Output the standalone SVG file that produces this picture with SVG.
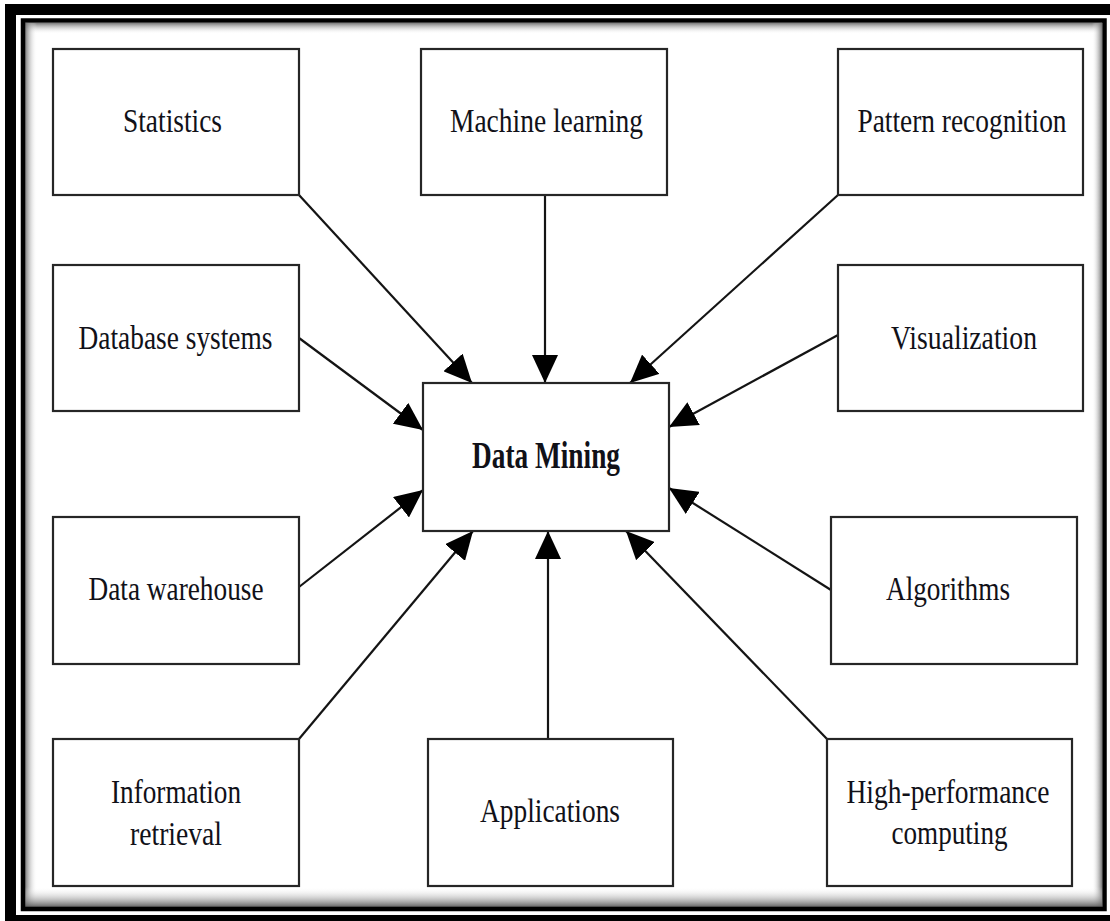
<svg xmlns="http://www.w3.org/2000/svg" width="1110" height="921" viewBox="0 0 1110 921">
  <style>
    .box { fill: #ffffff; stroke: #262626; stroke-width: 2.2; }
    .lbl { font-family: "Liberation Serif", "Times New Roman", serif; font-size: 34px; fill: #111118; text-anchor: middle; }
    .title { font-family: "Liberation Serif", "Times New Roman", serif; font-size: 37px; font-weight: bold; fill: #111118; text-anchor: middle; }
    .edge { stroke: #141414; stroke-width: 2.2; fill: none; marker-end: url(#head); }
  </style>
  <defs>
    <marker id="head" markerUnits="userSpaceOnUse" markerWidth="28" markerHeight="26" refX="28" refY="13" orient="auto" viewBox="0 0 28 26">
      <path d="M0,0 L28,13 L0,26 Z" fill="#000000"/>
    </marker>
    <linearGradient id="shTop" x1="0" y1="0" x2="0" y2="1">
      <stop offset="0" stop-color="#6a6a6a" stop-opacity="0.9"/>
      <stop offset="1" stop-color="#ffffff" stop-opacity="0"/>
    </linearGradient>
    <linearGradient id="shBottom" x1="0" y1="1" x2="0" y2="0">
      <stop offset="0" stop-color="#5a5a5a" stop-opacity="0.95"/>
      <stop offset="1" stop-color="#ffffff" stop-opacity="0"/>
    </linearGradient>
    <linearGradient id="shLeft" x1="0" y1="0" x2="1" y2="0">
      <stop offset="0" stop-color="#6a6a6a" stop-opacity="0.9"/>
      <stop offset="1" stop-color="#ffffff" stop-opacity="0"/>
    </linearGradient>
    <linearGradient id="shRight" x1="1" y1="0" x2="0" y2="0">
      <stop offset="0" stop-color="#6a6a6a" stop-opacity="0.9"/>
      <stop offset="1" stop-color="#ffffff" stop-opacity="0"/>
    </linearGradient>
  </defs>

  <!-- page background -->
  <rect x="0" y="0" width="1110" height="921" fill="#ffffff"/>

  <!-- double frame with inset shading -->
  <g id="frame">
    <rect x="10.5" y="9.5" width="1105" height="911" fill="none" stroke="#000000" stroke-width="11"/>
    <rect x="25" y="23" width="1077" height="11" fill="url(#shTop)"/>
    <rect x="25" y="23" width="12" height="884" fill="url(#shLeft)"/>
    <rect x="1092" y="23" width="10" height="884" fill="url(#shRight)"/>
    <rect x="25" y="887" width="1077" height="20" fill="url(#shBottom)"/>
    <rect x="23" y="20.5" width="1081.5" height="888.5" fill="none" stroke="#000000" stroke-width="4.5"/>
  </g>

  <!-- connectors -->
  <g id="connectors">
    <line class="edge" x1="299" y1="195" x2="472" y2="383"/>
    <line class="edge" x1="545" y1="195" x2="545" y2="383"/>
    <line class="edge" x1="838" y1="195" x2="630" y2="383"/>
    <line class="edge" x1="299" y1="338" x2="423" y2="430"/>
    <line class="edge" x1="838" y1="335" x2="669" y2="427"/>
    <line class="edge" x1="299" y1="587" x2="423" y2="490"/>
    <line class="edge" x1="831" y1="590" x2="669" y2="488"/>
    <line class="edge" x1="299" y1="739" x2="473" y2="531"/>
    <line class="edge" x1="548" y1="739" x2="548" y2="531"/>
    <line class="edge" x1="827" y1="739" x2="626" y2="531"/>
  </g>

  <!-- nodes -->
  <g id="node-statistics">
    <rect class="box" x="53" y="49" width="246" height="146"/>
    <text class="lbl" x="172.5" y="132" textLength="99" lengthAdjust="spacingAndGlyphs">Statistics</text>
  </g>
  <g id="node-machine-learning">
    <rect class="box" x="421" y="49" width="246" height="146"/>
    <text class="lbl" x="546.5" y="132" textLength="193" lengthAdjust="spacingAndGlyphs">Machine learning</text>
  </g>
  <g id="node-pattern-recognition">
    <rect class="box" x="838" y="49" width="245" height="146"/>
    <text class="lbl" x="962" y="132" textLength="209" lengthAdjust="spacingAndGlyphs">Pattern recognition</text>
  </g>
  <g id="node-database-systems">
    <rect class="box" x="53" y="265" width="246" height="146"/>
    <text class="lbl" x="175.5" y="348.5" textLength="194" lengthAdjust="spacingAndGlyphs">Database systems</text>
  </g>
  <g id="node-visualization">
    <rect class="box" x="838" y="265" width="245" height="146"/>
    <text class="lbl" x="964" y="349" textLength="146" lengthAdjust="spacingAndGlyphs">Visualization</text>
  </g>
  <g id="node-data-mining">
    <rect class="box" x="423" y="383" width="246" height="148"/>
    <text class="title" x="546" y="468" textLength="148" lengthAdjust="spacingAndGlyphs">Data Mining</text>
  </g>
  <g id="node-data-warehouse">
    <rect class="box" x="53" y="517" width="246" height="147"/>
    <text class="lbl" x="176" y="600" textLength="175" lengthAdjust="spacingAndGlyphs">Data warehouse</text>
  </g>
  <g id="node-algorithms">
    <rect class="box" x="831" y="517" width="246" height="147"/>
    <text class="lbl" x="948" y="600" textLength="124" lengthAdjust="spacingAndGlyphs">Algorithms</text>
  </g>
  <g id="node-information-retrieval">
    <rect class="box" x="53" y="739" width="246" height="147"/>
    <text class="lbl" x="176" y="803" textLength="130" lengthAdjust="spacingAndGlyphs">Information</text>
    <text class="lbl" x="176" y="845" textLength="92" lengthAdjust="spacingAndGlyphs">retrieval</text>
  </g>
  <g id="node-applications">
    <rect class="box" x="428" y="739" width="245" height="147"/>
    <text class="lbl" x="550" y="822" textLength="140" lengthAdjust="spacingAndGlyphs">Applications</text>
  </g>
  <g id="node-high-performance-computing">
    <rect class="box" x="827" y="739" width="245" height="147"/>
    <text class="lbl" x="948" y="803" textLength="203" lengthAdjust="spacingAndGlyphs">High-performance</text>
    <text class="lbl" x="949.5" y="844" textLength="116" lengthAdjust="spacingAndGlyphs">computing</text>
  </g>
</svg>
